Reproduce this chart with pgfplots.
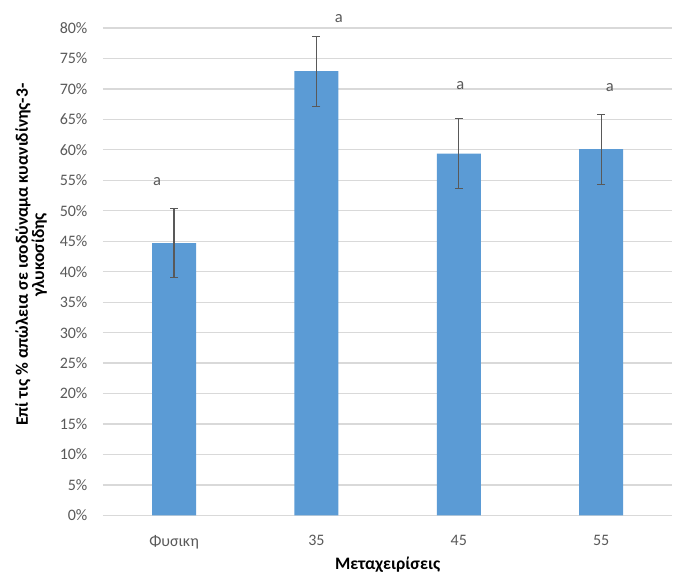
\documentclass[border=0pt]{standalone}
\usepackage{fontspec}
\setmainfont{Carlito}
\usepackage{pgfplots}
\pgfplotsset{compat=1.18}
\definecolor{barblue}{HTML}{5B9BD5}
\definecolor{txtgray}{HTML}{595959}
\definecolor{gridgray}{HTML}{D9D9D9}
\begin{document}
\begin{tikzpicture}
\begin{axis}[
  scale only axis,
  width=570pt, height=488pt,
  xmin=-0.5, xmax=3.5,
  ymin=0, ymax=80,
  clip=false,
  axis line style={draw=none},
  major tick length=0pt,
  xtick={0,1,2,3},
  xticklabels={Φυσικη,35,45,55},
  ytick={0,5,10,15,20,25,30,35,40,45,50,55,60,65,70,75,80},
  yticklabels={0\%,5\%,10\%,15\%,20\%,25\%,30\%,35\%,40\%,45\%,50\%,55\%,60\%,65\%,70\%,75\%,80\%},
  ymajorgrids,
  grid style={gridgray, line width=1.3pt},
  ticklabel style={font=\fontsize{16}{17}\selectfont, text=txtgray},
  yticklabel style={xshift=-12pt},
  xticklabel style={yshift=-16pt},
  xlabel={Μεταχειρίσεις},
  xlabel style={font=\bfseries\fontsize{17.5}{19}\selectfont, text=black, yshift=-2pt},
  ylabel={Επί τις \% απώλεια σε ισοδύναμα κυανιδίνης-3-\\γλυκοσίδης},
  ylabel style={at={(ticklabel cs:0.535)}, align=center,
    font=\bfseries\fontsize{17.5}{15}\selectfont, text=black, yshift=6pt},
]
\addplot[ybar, bar width=44pt, fill=barblue, draw=none,
  error bars/.cd, y dir=both, y explicit,
  error bar style={txtgray, line width=1.3pt},
  error mark options={rotate=90, mark size=4pt, txtgray, line width=1.3pt}]
  table[x=x, y=y, y error=e] {
x  y     e
0  44.7  5.7
1  72.9  5.75
2  59.4  5.75
3  60.1  5.75
};
\begin{scope}[every node/.style={font=\fontsize{16.5}{17}\selectfont, text=txtgray}]
\node at (axis cs:-0.12,54.8) {a};
\node at (axis cs:1.157,81.5) {a};
\node at (axis cs:2.011,70.5) {a};
\node at (axis cs:3.06,70.2) {a};
\end{scope}
% fixed frame around the plot area
\path (rel axis cs:0,1) ++(0,28pt);
\path (rel axis cs:0,0) ++(-103pt,-61pt);
\end{axis}
\end{tikzpicture}
\end{document}
